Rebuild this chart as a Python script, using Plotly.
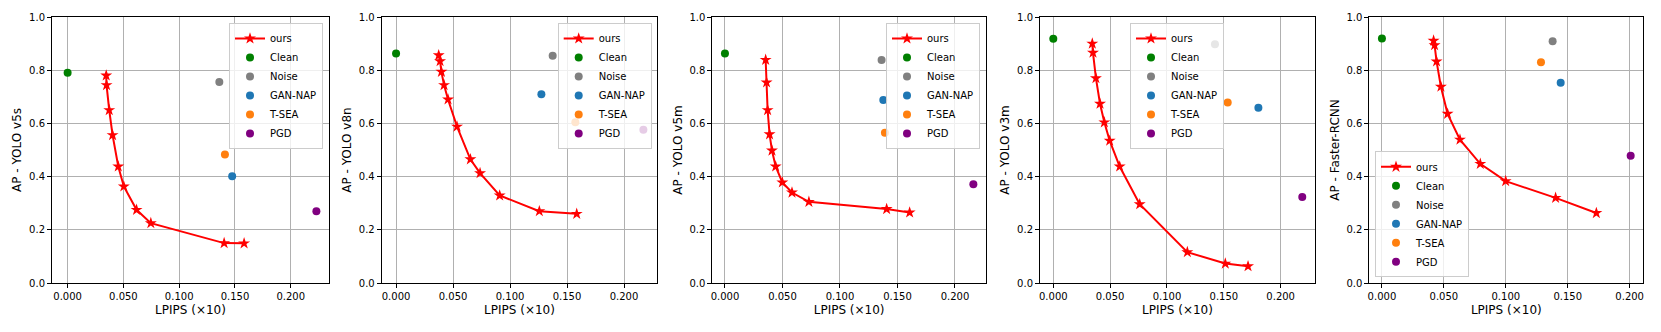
import plotly.graph_objects as go
from plotly.subplots import make_subplots

# AP vs LPIPS for five detectors, "ours" curve + baseline points

detectors = ["YOLO v5s", "YOLO v8n", "YOLO v5m", "YOLO v3m", "Faster-RCNN"]
baselines = ["Clean", "Noise", "GAN-NAP", "T-SEA", "PGD"]
base_colors = ["green", "gray", "#1f77b4", "#ff7f0e", "purple"]

# ours curve (LPIPS x10, AP)
ours_x_v5s = [0.0346, 0.0349, 0.0373, 0.0403, 0.0454, 0.0504, 0.0618, 0.0746, 0.1403, 0.1582]
ours_y_v5s = [0.780, 0.744, 0.650, 0.556, 0.438, 0.363, 0.275, 0.225, 0.150, 0.149]
ours_x_v8n = [0.0374, 0.0386, 0.0398, 0.0421, 0.0456, 0.0535, 0.0652, 0.0737, 0.0909, 0.1257, 0.1585]
ours_y_v8n = [0.856, 0.834, 0.794, 0.744, 0.690, 0.588, 0.465, 0.413, 0.329, 0.270, 0.260]
ours_x_v5m = [0.0354, 0.0362, 0.0371, 0.0388, 0.0409, 0.0441, 0.0499, 0.0583, 0.0730, 0.1406, 0.1606]
ours_y_v5m = [0.839, 0.754, 0.650, 0.559, 0.498, 0.438, 0.378, 0.340, 0.305, 0.278, 0.265]
ours_x_v3m = [0.0343, 0.0349, 0.0375, 0.0411, 0.0449, 0.0496, 0.0584, 0.0760, 0.1179, 0.1513, 0.1713]
ours_y_v3m = [0.900, 0.866, 0.770, 0.674, 0.604, 0.535, 0.438, 0.296, 0.116, 0.073, 0.063]
ours_x_frcnn = [0.0417, 0.0425, 0.0441, 0.0476, 0.0530, 0.0630, 0.0794, 0.0999, 0.1402, 0.1731]
ours_y_frcnn = [0.911, 0.894, 0.833, 0.738, 0.636, 0.539, 0.448, 0.383, 0.320, 0.263]

# baselines in order Clean, Noise, GAN-NAP, T-SEA, PGD
base_x_v5s = [0.0, 0.1360, 0.1475, 0.1410, 0.2230]
base_y_v5s = [0.790, 0.756, 0.401, 0.483, 0.270]
base_x_v8n = [0.0, 0.1374, 0.1275, 0.1573, 0.2170]
base_y_v8n = [0.863, 0.854, 0.710, 0.604, 0.576]
base_x_v5m = [0.0, 0.1362, 0.1377, 0.1391, 0.2160]
base_y_v5m = [0.863, 0.838, 0.688, 0.565, 0.371]
base_x_v3m = [0.0, 0.1422, 0.1804, 0.1534, 0.2190]
base_y_v3m = [0.918, 0.898, 0.659, 0.679, 0.323]
base_x_frcnn = [0.0, 0.1378, 0.1443, 0.1284, 0.2008]
base_y_frcnn = [0.919, 0.909, 0.753, 0.830, 0.478]

ours_x = [ours_x_v5s, ours_x_v8n, ours_x_v5m, ours_x_v3m, ours_x_frcnn]
ours_y = [ours_y_v5s, ours_y_v8n, ours_y_v5m, ours_y_v3m, ours_y_frcnn]
base_x = [base_x_v5s, base_x_v8n, base_x_v5m, base_x_v3m, base_x_frcnn]
base_y = [base_y_v5s, base_y_v8n, base_y_v5m, base_y_v3m, base_y_frcnn]

x_ranges = [[-0.014, 0.2343], [-0.0126, 0.2292], [-0.011, 0.227], [-0.0117, 0.2302], [-0.0102, 0.211]]
x_domains = [[52, 329], [381.7, 657.3], [712.3, 986], [1040, 1315], [1369.3, 1643.3]]

W, H = 1661, 332

fig = make_subplots(rows=1, cols=5)

for i in range(5):
    lg = "legend" if i == 0 else "legend%d" % (i + 1)
    fig.add_trace(go.Scatter(x=ours_x[i], y=ours_y[i], mode="lines+markers", name="ours",
                             line=dict(color="red", width=2),
                             marker=dict(symbol="star", size=9, color="red"),
                             legend=lg), row=1, col=i + 1)
    for j in range(5):
        fig.add_trace(go.Scatter(x=[base_x[i][j]], y=[base_y[i][j]], mode="markers", name=baselines[j],
                                 marker=dict(size=8, color=base_colors[j]),
                                 legend=lg), row=1, col=i + 1)

    ax = dict(domain=[x_domains[i][0] / W, x_domains[i][1] / W], range=x_ranges[i], automargin=False,
              tickvals=[0, 0.05, 0.1, 0.15, 0.2], tickformat=".3f",
              title=dict(text="LPIPS (×10)", standoff=4),
              showgrid=True, gridcolor="#b0b0b0", gridwidth=0.8, zeroline=False,
              showline=True, mirror=True, linecolor="black", linewidth=1,
              ticks="outside", ticklen=4, tickcolor="black")
    ay = dict(domain=[49 / H, 315 / H], range=[0, 1], dtick=0.2, tickformat=".1f", automargin=False,
              title=dict(text="AP - " + detectors[i], standoff=4),
              showgrid=True, gridcolor="#b0b0b0", gridwidth=0.8, zeroline=False,
              showline=True, mirror=True, linecolor="black", linewidth=1,
              ticks="outside", ticklen=4, tickcolor="black")
    fig.update_xaxes(ax, row=1, col=i + 1)
    fig.update_yaxes(ay, row=1, col=i + 1)

leg_style = dict(bgcolor="rgba(255,255,255,0.8)", bordercolor="#cccccc", borderwidth=1,
                 font=dict(size=10), xref="paper", yref="paper")
fig.update_layout(
    legend=dict(x=323 / W, y=1 - 23 / H, xanchor="right", yanchor="top", **leg_style),
    legend2=dict(x=651.7 / W, y=1 - 23 / H, xanchor="right", yanchor="top", **leg_style),
    legend3=dict(x=980 / W, y=1 - 23 / H, xanchor="right", yanchor="top", **leg_style),
    legend4=dict(x=1130 / W, y=1 - 23 / H, xanchor="left", yanchor="top", **leg_style),
    legend5=dict(x=1375 / W, y=1 - 277.3 / H, xanchor="left", yanchor="bottom", **leg_style),
)

fig.update_layout(width=W, height=H, margin=dict(l=0, r=0, t=0, b=0),
                  plot_bgcolor="white", paper_bgcolor="white",
                  font=dict(family="DejaVu Sans", size=10, color="black"))

# page body has a default 8px margin; drop it so the figure sits at the window origin
fig.write_html("out.html", config={"displayModeBar": False},
               post_script="document.body.style.margin='0';")
